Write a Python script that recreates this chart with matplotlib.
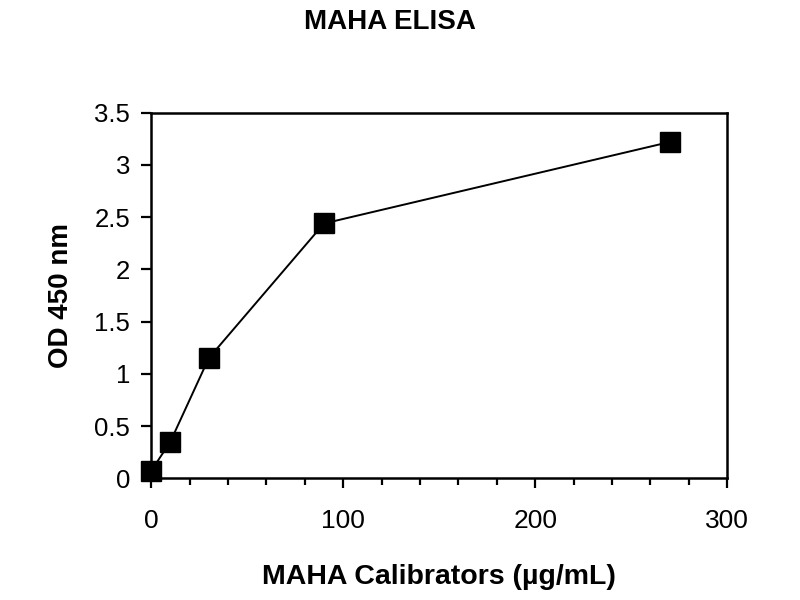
import numpy as np
import matplotlib
matplotlib.use('Agg')
import matplotlib.pyplot as plt
from matplotlib.ticker import MultipleLocator

conc = [0, 10, 30, 90, 270]
od = [0.07, 0.35, 1.15, 2.44, 3.22]

xticks = [0, 100, 200, 300]
yticks = [0, 0.5, 1, 1.5, 2, 2.5, 3, 3.5]
yticklabels = ['0', '0.5', '1', '1.5', '2', '2.5', '3', '3.5']

plt.rcParams['font.family'] = ['Liberation Sans', 'DejaVu Sans']

fig = plt.figure(figsize=(8, 6), dpi=100)
ax = fig.add_axes([0.189, 0.203, 0.72, 0.609])

ax.plot(conc, od, color='black', lw=1.4, marker='s', ms=15, mfc='black', mec='black', clip_on=False, zorder=3)

ax.set_xlim(0, 300)
ax.set_ylim(0, 3.5)
ax.set_xticks(xticks)
ax.xaxis.set_minor_locator(MultipleLocator(20))
ax.set_yticks(yticks)
ax.set_yticklabels(yticklabels)

for s in ax.spines.values():
    s.set_linewidth(1.8)

ax.tick_params(axis='x', which='major', direction='out', length=7.5, width=1.6, pad=15, labelsize=19)
ax.tick_params(axis='x', which='minor', direction='out', length=5, width=1.6)
ax.tick_params(axis='y', which='major', direction='out', length=7, width=1.6, pad=8, labelsize=18.5)

ax.set_xlabel('MAHA Calibrators (µg/mL)', fontsize=20.5, fontweight='bold', labelpad=22)
ax.set_ylabel('OD 450 nm', fontsize=20, fontweight='bold', labelpad=15)
fig.text(0.4875, 0.963, 'MAHA ELISA', ha='center', va='center', fontsize=20, fontweight='bold')

fig.savefig('out.png', dpi=100)
